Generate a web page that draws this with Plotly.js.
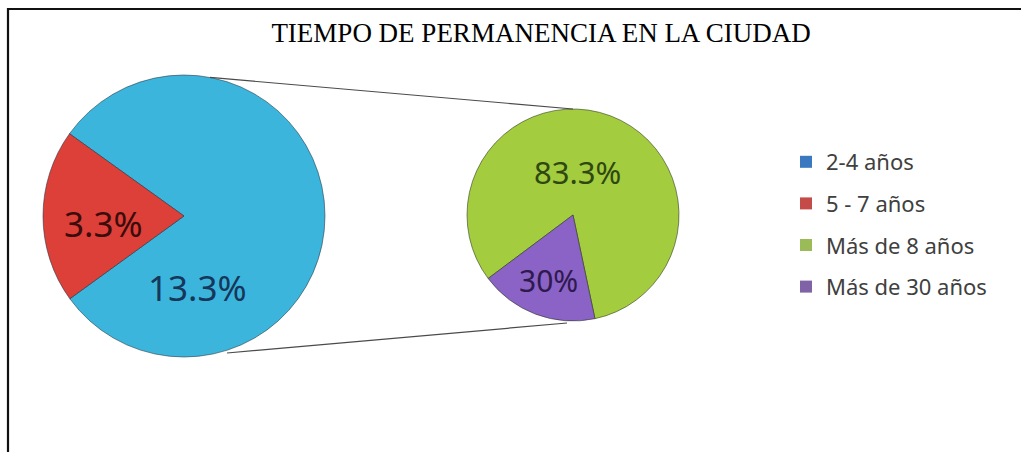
<!DOCTYPE html>
<html>
<head>
<meta charset="utf-8">
<script src="https://cdn.plot.ly/plotly-3.0.1.min.js"></script>
<style>html,body{margin:0;padding:0;background:#fff;}#chart{width:1021px;height:452px;}</style>
</head>
<body>
<div id="chart"></div>
<script>
// ---- data ----
const categories = ['2-4 años', '5 - 7 años', 'Más de 8 años', 'Más de 30 años'];
// share of each pie occupied by the slice (as drawn)
const mainValues = [80.1, 19.9];        // 2-4 años, 5 - 7 años
const secondaryValues = [81.9, 18.1];   // Más de 8 años, Más de 30 años
// percentage labels printed on the slices
const printedLabels = ['13.3%', '3.3%', '83.3%', '30%'];
const sliceColors = ['#3cb5dd', '#dd3f39', '#a3cc3f', '#8b63c6'];
const legendColors = ['#3a78bf', '#c54b48', '#9bbb59', '#7f63a6'];
const labelColors = ['#16365a', '#3a0c0c', '#2e4812', '#2e1a4e'];

// ---- layout helpers ----
const W = 1021, H = 452;
const px = x => x / W;
const py = y => 1 - y / H;

const mainPie = {cx: 184, cy: 216, r: 141, rotation: -54.3};
const secPie = {cx: 573, cy: 215, r: 106, rotation: 233.2};

function domainOf(p) {
  return {x: [px(p.cx - p.r), px(p.cx + p.r)], y: [py(p.cy + p.r), py(p.cy - p.r)]};
}

const traces = [
  {
    type: 'pie', labels: categories.slice(0, 2), values: mainValues,
    domain: domainOf(mainPie), sort: false, direction: 'clockwise', rotation: mainPie.rotation,
    marker: {colors: sliceColors.slice(0, 2), line: {color: 'rgba(30,50,60,0.55)', width: 1}},
    textinfo: 'none', hoverinfo: 'skip', showlegend: false
  },
  {
    type: 'pie', labels: categories.slice(2), values: secondaryValues,
    domain: domainOf(secPie), sort: false, direction: 'clockwise', rotation: secPie.rotation,
    marker: {colors: sliceColors.slice(2), line: {color: 'rgba(40,50,30,0.55)', width: 1}},
    textinfo: 'none', hoverinfo: 'skip', showlegend: false
  }
];
// legend entries
categories.forEach((c, i) => {
  traces.push({
    type: 'scatter', mode: 'markers', x: [null], y: [null], name: c,
    legendgroup: 'g' + i,
    marker: {symbol: 'square', size: 12, color: legendColors[i]},
    hoverinfo: 'skip'
  });
});

// label placement (pixel positions in the picture)
const labelPos = [[197, 287], [103, 223], [577, 172], [548, 280]];
const labelSizes = [35, 35, 31, 30];
const annotations = printedLabels.map((t, i) => ({
  text: t, xref: 'paper', yref: 'paper', x: px(labelPos[i][0]), y: py(labelPos[i][1]),
  xanchor: 'center', yanchor: 'middle', showarrow: false,
  font: {family: 'Noto Sans, sans-serif', size: labelSizes[i], color: labelColors[i]}
}));

// connector lines between the two pies
function pt(p, deg) {
  const a = deg * Math.PI / 180;
  return [p.cx + p.r * Math.cos(a), p.cy - p.r * Math.sin(a)];
}
const cTopA = pt(mainPie, 79.4), cTopB = pt(secPie, 90);
const cBotA = [227, 353], cBotB = [567, 323];
const shapes = [
  {type: 'line', xref: 'paper', yref: 'paper', x0: px(cTopA[0]), y0: py(cTopA[1]), x1: px(cTopB[0]), y1: py(cTopB[1]), line: {color: '#4a4a4a', width: 1.2}},
  {type: 'line', xref: 'paper', yref: 'paper', x0: px(cBotA[0]), y0: py(cBotA[1]), x1: px(cBotB[0]), y1: py(cBotB[1]), line: {color: '#4a4a4a', width: 1.2}},
  // frame (top and left)
  {type: 'line', xref: 'paper', yref: 'paper', x0: px(7), y0: py(9), x1: 1, y1: py(9), line: {color: '#111', width: 2.2}},
  {type: 'line', xref: 'paper', yref: 'paper', x0: px(8), y0: py(8), x1: px(8), y1: 0, line: {color: '#111', width: 2.2}}
];

const layout = {
  width: W, height: H, margin: {l: 0, r: 0, t: 0, b: 0},
  paper_bgcolor: '#ffffff', plot_bgcolor: '#ffffff',
  title: {text: 'TIEMPO DE PERMANENCIA EN LA CIUDAD', x: px(541), xanchor: 'center', y: 1 - 33 / H, yanchor: 'middle', yref: 'container',
          font: {family: 'Liberation Serif, Times New Roman, serif', size: 27, color: '#000'}},
  xaxis: {visible: false}, yaxis: {visible: false},
  showlegend: true,
  legend: {x: px(786), y: py(141), xanchor: 'left', yanchor: 'top', bgcolor: 'rgba(0,0,0,0)',
           font: {family: 'Noto Sans, sans-serif', size: 22, color: '#404040'}, tracegroupgap: 10, traceorder: 'grouped'},
  annotations: annotations, shapes: shapes
};

Plotly.newPlot('chart', traces, layout, {staticPlot: true, displayModeBar: false});
</script>
</body>
</html>
